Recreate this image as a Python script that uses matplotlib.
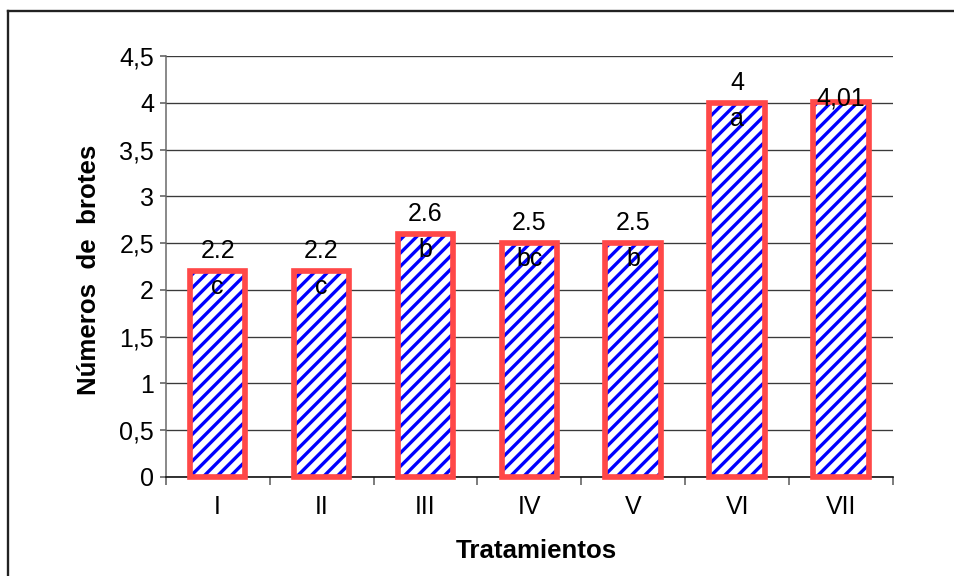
import matplotlib
matplotlib.use("Agg")
import matplotlib.pyplot as plt
from matplotlib.lines import Line2D
import numpy as np

categories = ["I", "II", "III", "IV", "V", "VI", "VII"]
values = [2.2, 2.2, 2.6, 2.5, 2.5, 4.0, 4.01]
value_labels = ["2.2", "2.2", "2.6", "2.5", "2.5", "4", "4,01"]
letters = ["c", "c", "b", "bc", "b", "a", ""]
yticks = [0, 0.5, 1, 1.5, 2, 2.5, 3, 3.5, 4, 4.5]
ytick_labels = ["0", "0,5", "1", "1,5", "2", "2,5", "3", "3,5", "4", "4,5"]

DPI = 120
W, H = 954, 576
plt.rcParams['font.family'] = ['Liberation Sans', 'DejaVu Sans']
plt.rcParams['hatch.linewidth'] = 2.0

fig = plt.figure(figsize=(W / DPI, H / DPI), dpi=DPI)
fig.patch.set_facecolor('white')

ax_l, ax_r, ax_t, ax_b = 165.7, 893, 56, 477
ax = fig.add_axes([ax_l / W, 1 - ax_b / H, (ax_r - ax_l) / W, (ax_b - ax_t) / H])

x = np.arange(len(categories))
ax.set_xlim(-0.5, len(categories) - 0.5)
ax.set_ylim(0, 4.5)

ax.set_yticks(yticks)
ax.set_yticklabels(ytick_labels, fontsize=15)
ax.yaxis.grid(True, color='#3a3a3a', linewidth=0.8)
ax.set_axisbelow(True)

BW = 0.535
# hatched fill (blue stripes on white)
ax.bar(x, values, width=BW, color='white', edgecolor='#0000FF',
       linewidth=0, hatch='///', zorder=3)
# red outline
ax.bar(x, values, width=BW, fill=False, edgecolor='#FF4848',
       linewidth=3.4, zorder=4, clip_on=False)

ax.set_xticks(np.arange(-0.5, len(categories), 1.0))
ax.set_xticklabels([])
ax.set_xticks(x, minor=True)
ax.set_xticklabels(categories, minor=True, fontsize=15)
ax.tick_params(axis='x', which='major', length=4.5, width=0.9, color='#555555', direction='out')
ax.tick_params(axis='x', which='minor', length=0, pad=11)
ax.tick_params(axis='y', length=3.5, width=0.9, color='#555555', pad=3.5)

for s in ['top', 'right']:
    ax.spines[s].set_visible(False)
ax.spines['left'].set_color('#666666')
ax.spines['left'].set_linewidth(0.9)
ax.spines['bottom'].set_color('#111111')
ax.spines['bottom'].set_linewidth(1.0)
ax.spines['bottom'].set_zorder(2.5)

for i, (v, lab, let) in enumerate(zip(values, value_labels, letters)):
    dy = 2 if i == len(values) - 1 else 12
    ax.annotate(lab, (x[i], v), xytext=(0, dy), textcoords='offset points',
                ha='center', va='center', fontsize=15, zorder=5)
    if let:
        ax.annotate(let, (x[i], v), xytext=(0, -9.5), textcoords='offset points',
                    ha='center', va='center', fontsize=15, zorder=5)

fig.text(536 / W, 1 - 551 / H, "Tratamientos", fontsize=15.5, fontweight='bold',
         ha='center', va='center')
fig.text(89 / W, 1 - 270 / H, "Números  de  brotes", fontsize=15.5, fontweight='bold',
         ha='center', va='center', rotation=90)

fig.add_artist(Line2D([7.5 / W, 7.5 / W], [0, 1 - 10.5 / H], transform=fig.transFigure,
                      color='#222222', linewidth=1.4))
fig.add_artist(Line2D([7.5 / W, 1], [1 - 10.5 / H, 1 - 10.5 / H], transform=fig.transFigure,
                      color='#222222', linewidth=1.4))

fig.savefig("out.png", dpi=DPI, facecolor='white')
